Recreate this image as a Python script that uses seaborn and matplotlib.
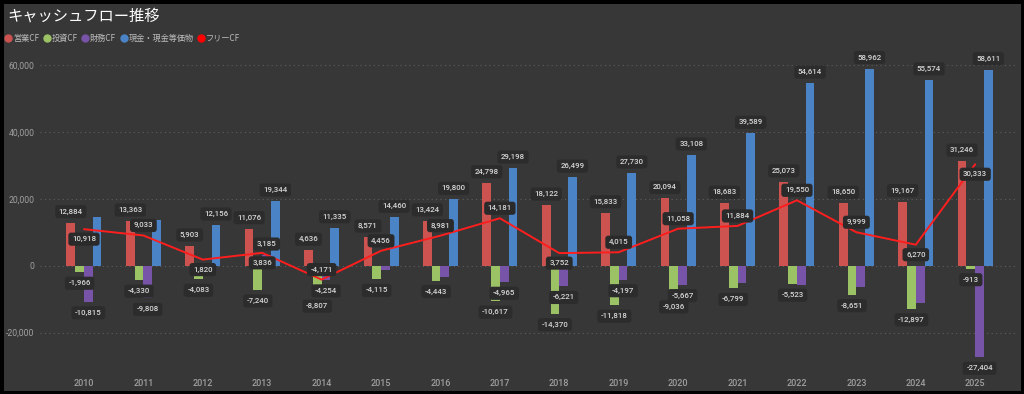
import numpy as np
import pandas as pd
import matplotlib
matplotlib.use("Agg")
import matplotlib.pyplot as plt
import seaborn as sns
from matplotlib.patches import Rectangle
from matplotlib.lines import Line2D
from matplotlib.ticker import FuncFormatter

# ---------------- data ----------------
years = [str(y) for y in range(2010, 2026)]
operating_cf = [12884, 13363, 5903, 11076, 4636, 8571, 13424, 24798, 18122, 15833,
                20094, 18683, 25073, 18650, 19167, 31246]
investing_cf = [-1966, -4330, -4083, -7240, -8807, -4115, -4443, -10617, -14370, -11818,
                -9036, -6799, -5523, -8651, -12897, -913]
financing_cf = [-10815, -9808, -900, 3185, -4254, -1400, -3400, -4965, -6221, -4197,
                -5667, -5300, -5800, -6300, -11100, -27404]
cash_equiv = [14700, 13600, 12156, 19344, 11335, 14460, 19800, 29198, 26499, 27730,
              33108, 39589, 54614, 58962, 55574, 58611]
free_cf = [10918, 9033, 1820, 3836, -4171, 4456, 8981, 14181, 3752, 4015,
           11058, 11884, 19550, 9999, 6270, 30333]

series_names = ["営業CF", "投資CF", "財務CF", "現金・現金等価物"]
free_name = "フリーCF"
title = "キャッシュフロー推移"
y_ticks = [-20000, 0, 20000, 40000, 60000]

# which data labels are visible in the chart
op_label_shown = [True] * 16
inv_label_shown = [True] * 16
fin_label_shown = [True, True, False, True, True, False, False, True, True, True,
                   True, False, False, False, False, True]
cash_label_shown = [False, False] + [True] * 14
free_label_above = [False, True, False, False, True, True, True, True, False, True,
                    True, True, True, True, False, False]

# ---------------- style ----------------
BG = "#373737"
BOX = "#2c2c2c"
TXT = "#d6d6d6"
AXTXT = "#a0a0a0"
colors = ["#cc5350", "#9cc266", "#7854a8", "#4b84c6"]
LINE = "#ff1e1e"

sns.set_theme(style="dark")
plt.rcParams["font.family"] = ["Noto Sans CJK JP", "DejaVu Sans"]
NUMFONT = ["Roboto", "DejaVu Sans"]

fig = plt.figure(figsize=(10.24, 3.94), dpi=100, facecolor=BG)
W, H = 1024, 394
ax = fig.add_axes([40 / W, 1 - 366 / H, 975 / W, (366 - 55) / H])
ax.set_facecolor(BG)

df = pd.DataFrame({
    "year": years * 4,
    "series": sum([[s] * len(years) for s in series_names], []),
    "value": operating_cf + investing_cf + financing_cf + cash_equiv,
})

sns.barplot(data=df, x="year", y="value", hue="series", hue_order=series_names,
            order=years, palette=colors, width=0.59, gap=0, saturation=1,
            errorbar=None, legend=False, ax=ax, zorder=2, linewidth=0)

xpos = np.arange(len(years))
sns.lineplot(x=xpos, y=free_cf, color=LINE, lw=1.4, ax=ax, zorder=4)

ax.set_xlim(-0.74, 15.67)
ax.set_ylim(-30000, 63000)
ax.set_yticks(y_ticks)
ax.yaxis.set_major_formatter(FuncFormatter(lambda v, p: f"{v:,.0f}"))
ax.grid(False)
ax.yaxis.grid(True, linestyle=(0, (1, 3)), color="#5e5e5e", lw=0.8, zorder=0)
for sp in ax.spines.values():
    sp.set_visible(False)
ax.tick_params(axis="both", length=0, colors=AXTXT)
ax.tick_params(axis="y", pad=4)
ax.tick_params(axis="x", pad=9)
ax.set_xlabel("")
ax.set_ylabel("")
for t in ax.get_yticklabels():
    t.set_fontfamily(NUMFONT)
    t.set_fontsize(6.2)
for t in ax.get_xticklabels():
    t.set_fontfamily(NUMFONT)
    t.set_fontsize(6.5)
    t.set_fontweight("medium")


def put_label(x, y, val, up, off=11, fc=BOX):
    ax.annotate(f"{val:,.0f}", (x, y), xytext=(0, off if up else -off),
                textcoords="offset pixels", ha="center", va="center",
                fontsize=5.7, fontweight="medium", color=TXT, family=NUMFONT, zorder=6,
                annotation_clip=False,
                bbox=dict(boxstyle="round,pad=0.45,rounding_size=0.35", fc=fc, ec="none"))


shown = [op_label_shown, inv_label_shown, fin_label_shown, cash_label_shown]
for cont, vis in zip(ax.containers, shown):
    for bar, v in zip(cont, vis):
        if not v:
            continue
        h = bar.get_height()
        put_label(bar.get_x() + bar.get_width() / 2, h, h, h >= 0)

for x, v, up in zip(xpos, free_cf, free_label_above):
    put_label(x, v, v, up, off=10, fc="#2a2a2a")

# title and legend
fig.text(7 / W, 1 - 16 / H, title, color="white", fontsize=11, va="center", ha="left")
handles = [Line2D([], [], marker="o", ls="", color=c, markersize=5) for c in colors]
handles.append(Line2D([], [], marker="o", ls="", color="#ff0000", markersize=5))
leg = fig.legend(handles, series_names + [free_name], loc="center left",
                 bbox_to_anchor=(5 / W, 1 - 38 / H), ncol=5, frameon=False,
                 handletextpad=0.2, columnspacing=0.5, handlelength=0.8,
                 fontsize=5.9, labelcolor="#bdbdbd", borderaxespad=0, borderpad=0)

fig.add_artist(Rectangle((0, 0), 1, 1, transform=fig.transFigure, fill=False,
                         ec="black", lw=5, zorder=10))

fig.savefig("out.png", dpi=100, facecolor=BG)
